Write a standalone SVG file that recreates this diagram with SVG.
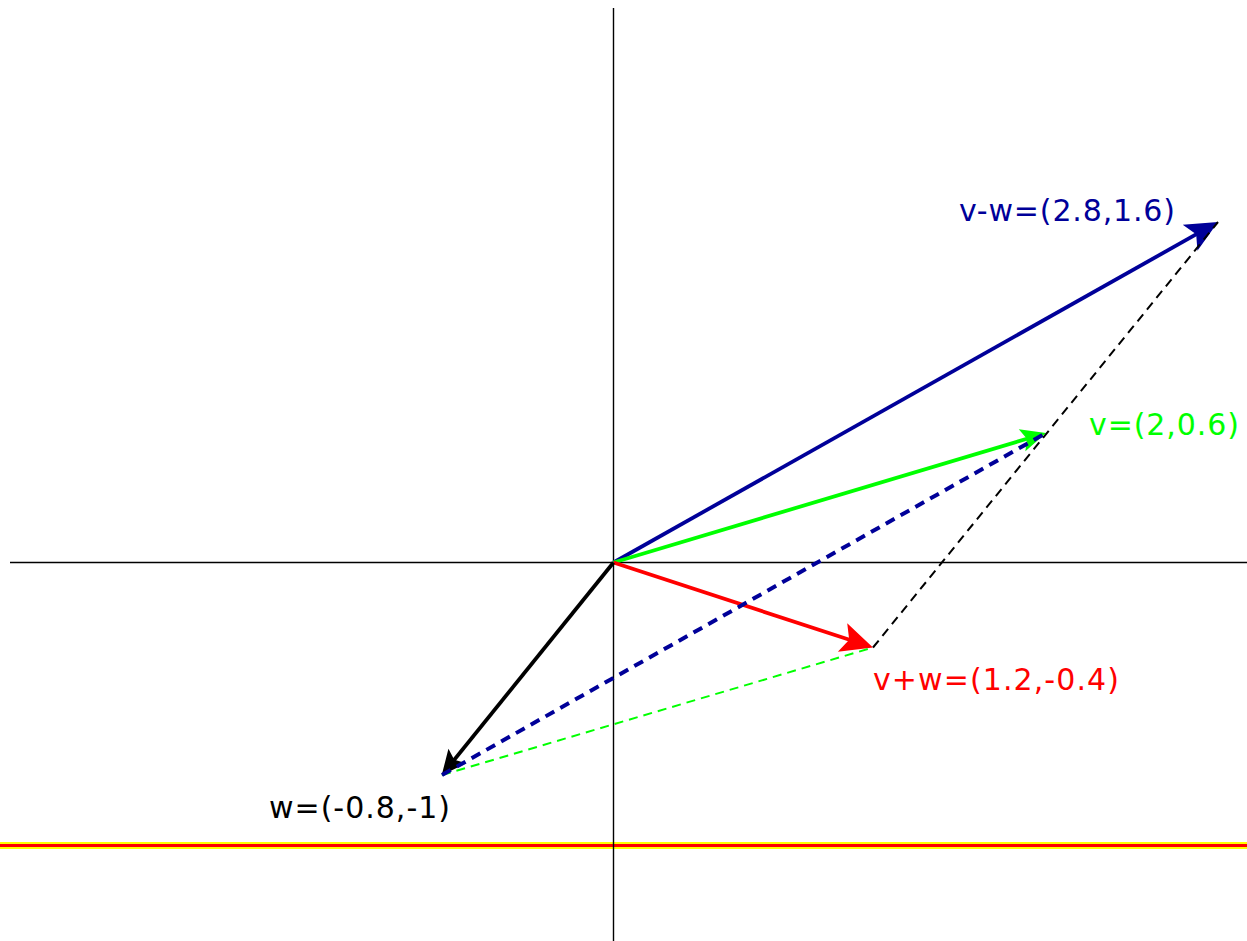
<svg xmlns="http://www.w3.org/2000/svg" width="1247" height="941" viewBox="0 0 1247 941">
<style>
.axis{stroke:#000;stroke-width:1.4;fill:none}
.vec{stroke-width:3.8;fill:none;stroke-linecap:butt}
.dash{fill:none;stroke-width:2;stroke-dasharray:9,6}
.dashb{fill:none;stroke-width:4;stroke-dasharray:10,7}
.lbl{font-family:"DejaVu Sans","Liberation Sans",sans-serif;font-size:30px}
</style>
<defs>
<marker id="hBlue" markerUnits="userSpaceOnUse" orient="auto" refX="-15" refY="0" overflow="visible" markerWidth="1" markerHeight="1">
<path d="M0,0 L-32,-15 L-25,0 L-32,15 Z" fill="#000099"/>
</marker>
<marker id="hRed" markerUnits="userSpaceOnUse" orient="auto" refX="-15" refY="0" overflow="visible" markerWidth="1" markerHeight="1">
<path d="M0,0 L-32,-15 L-25,0 L-32,15 Z" fill="#ff0000"/>
</marker>
<marker id="hGreen" markerUnits="userSpaceOnUse" orient="auto" refX="-11" refY="0" overflow="visible" markerWidth="1" markerHeight="1">
<path d="M0,0 L-25,-11.5 L-20,0 L-25,11.5 Z" fill="#00ff00"/>
</marker>
<marker id="hBlack" markerUnits="userSpaceOnUse" orient="auto" refX="-11" refY="0" overflow="visible" markerWidth="1" markerHeight="1">
<path d="M0,0 L-25,-11.5 L-20,0 L-25,11.5 Z" fill="#000"/>
</marker>
</defs>
<g id="baseline">
<line x1="0" y1="845.5" x2="1247" y2="845.5" stroke="#ffff00" stroke-width="7"/>
<line x1="0" y1="845.5" x2="1247" y2="845.5" stroke="#ff0000" stroke-width="3"/>
</g>
<g id="axes">
<line class="axis" x1="10" y1="562.5" x2="1247" y2="562.5"/>
<line class="axis" x1="613.5" y1="8" x2="613.5" y2="941"/>
</g>
<g id="connectors">
<line id="vec-vmw" class="vec" stroke="#000099" x1="613.5" y1="562.5" x2="1204.9" y2="229.4" marker-end="url(#hBlue)"/>
<line id="vec-v" class="vec" stroke="#00ff00" x1="613.5" y1="562.5" x2="1035.5" y2="436.2" marker-end="url(#hGreen)"/>
<line id="vec-vpw" class="vec" stroke="#ff0000" x1="613.5" y1="562.5" x2="858.7" y2="642.8" marker-end="url(#hRed)"/>
<line id="vec-w" class="vec" stroke="#000" x1="613.5" y1="562.5" x2="448.6" y2="766.8" marker-end="url(#hBlack)"/>
<line class="dash" stroke="#00ff00" x1="442" y1="775" x2="873" y2="647.5"/>
<line class="dashb" stroke="#000099" x1="442" y1="775" x2="1046" y2="433"/>
<line class="dash" stroke="#000" x1="873" y1="647.5" x2="1218" y2="222"/>
</g>
<g id="labels">
<text class="lbl" x="959" y="221" fill="#000099" textLength="216" lengthAdjust="spacing">v-w=(2.8,1.6)</text>
<text class="lbl" x="1089" y="435" fill="#00ff00" textLength="150" lengthAdjust="spacing">v=(2,0.6)</text>
<text class="lbl" x="873" y="690" fill="#ff0000" textLength="246" lengthAdjust="spacing">v+w=(1.2,-0.4)</text>
<text class="lbl" x="269" y="818" fill="#000" textLength="181" lengthAdjust="spacing">w=(-0.8,-1)</text>
</g>
</svg>
